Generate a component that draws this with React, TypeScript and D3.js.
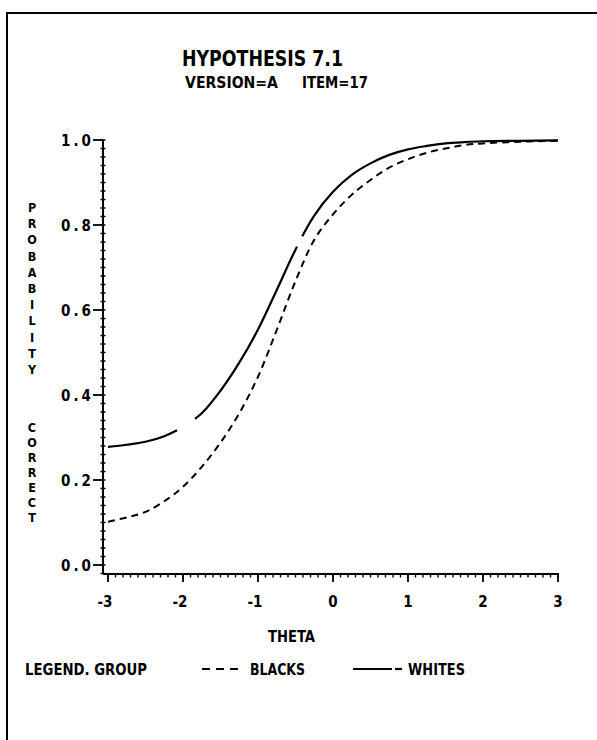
import React, { useEffect, useRef } from "react";
import * as d3 from "d3";

// Item characteristic curves: probability of a correct answer by ability (theta)
const thetaGrid = [-3, -2.75, -2.5, -2.25, -2, -1.75, -1.5, -1.25, -1, -0.75, -0.5, -0.25, 0, 0.25, 0.5, 0.75, 1, 1.25, 1.5, 1.75, 2, 2.5, 3];
const whitesProb = [0.278, 0.283, 0.29, 0.303, 0.325, 0.357, 0.41, 0.476, 0.554, 0.647, 0.742, 0.822, 0.878, 0.918, 0.945, 0.965, 0.978, 0.986, 0.992, 0.995, 0.997, 0.998, 0.999];
const blacksProb = [0.102, 0.112, 0.125, 0.15, 0.184, 0.231, 0.288, 0.357, 0.443, 0.553, 0.668, 0.765, 0.825, 0.871, 0.906, 0.935, 0.955, 0.97, 0.98, 0.988, 0.992, 0.996, 0.998];

const xTicks = [-3, -2, -1, 0, 1, 2, 3];
const xTickLabels = ["-3", "-2", "-1", "0", "1", "2", "3"];
const yTicks = [0, 0.2, 0.4, 0.6, 0.8, 1.0];
const yTickLabels = ["0.0", "0.2", "0.4", "0.6", "0.8", "1.0"];

const titleText = "HYPOTHESIS 7.1";
const subtitleLeft = "VERSION=A";
const subtitleRight = "ITEM=17";
const xAxisTitle = "THETA";
const yAxisWords = ["PROBABILITY", "CORRECT"];
const legendTitle = "LEGEND. GROUP";
const groupNames = ["BLACKS", "WHITES"];

const FONT = "'DejaVu Sans Condensed', 'Liberation Sans Narrow', 'DejaVu Sans', sans-serif";

export default function App() {
  const ref = useRef<SVGSVGElement>(null);

  useEffect(() => {
    document.body.style.margin = "0";
    const svg = d3.select(ref.current);
    svg.selectAll("*").remove();

    const x = d3.scaleLinear().domain([-3, 3]).range([108, 558]);
    const y = d3.scaleLinear().domain([0, 1]).range([565, 140]);
    const axisX = 103;
    const axisY = 574;

    // page frame (top and left rules)
    svg.append("line").attr("x1", 7).attr("y1", 13).attr("x2", 597).attr("y2", 13)
      .attr("stroke", "#000").attr("stroke-width", 2);
    svg.append("line").attr("x1", 7).attr("y1", 12).attr("x2", 7).attr("y2", 740)
      .attr("stroke", "#000").attr("stroke-width", 2);

    // titles
    svg.append("text").attr("x", 182).attr("y", 66).attr("font-family", FONT)
      .attr("font-weight", "bold").attr("font-size", 21)
      .attr("textLength", 161).attr("lengthAdjust", "spacingAndGlyphs").text(titleText);
    svg.append("text").attr("x", 185).attr("y", 88).attr("font-family", FONT)
      .attr("font-weight", "bold").attr("font-size", 16)
      .attr("textLength", 93).attr("lengthAdjust", "spacingAndGlyphs").text(subtitleLeft);
    svg.append("text").attr("x", 302).attr("y", 88).attr("font-family", FONT)
      .attr("font-weight", "bold").attr("font-size", 16)
      .attr("textLength", 66).attr("lengthAdjust", "spacingAndGlyphs").text(subtitleRight);

    // y axis
    svg.append("line").attr("x1", axisX).attr("y1", y(1)).attr("x2", axisX).attr("y2", axisY)
      .attr("stroke", "#000").attr("stroke-width", 2);
    const yMinor = d3.range(-1, 51).map((i) => i * 0.02);
    svg.append("g").selectAll("line").data(yMinor).join("line")
      .attr("x1", axisX - 2.5).attr("x2", axisX + 2.5)
      .attr("y1", (d) => y(d)).attr("y2", (d) => y(d))
      .attr("stroke", "#000").attr("stroke-width", 1.5);
    svg.append("g").selectAll("line").data(yTicks).join("line")
      .attr("x1", axisX - 10).attr("x2", axisX)
      .attr("y1", (d) => y(d)).attr("y2", (d) => y(d))
      .attr("stroke", "#000").attr("stroke-width", 1.8);
    svg.append("g").selectAll("text").data(yTicks).join("text")
      .attr("x", 61).attr("y", (d) => y(d) + 5.5)
      .attr("font-family", FONT).attr("font-weight", "bold").attr("font-size", 15)
      .attr("textLength", 30).attr("lengthAdjust", "spacing")
      .text((_, i) => yTickLabels[i]);

    // x axis
    svg.append("line").attr("x1", axisX).attr("y1", axisY).attr("x2", 559).attr("y2", axisY)
      .attr("stroke", "#000").attr("stroke-width", 2);
    const xMinor = d3.range(0, 61).map((i) => -3 + i * 0.1);
    svg.append("g").selectAll("line").data(xMinor).join("line")
      .attr("x1", (d) => x(d)).attr("x2", (d) => x(d))
      .attr("y1", axisY).attr("y2", axisY + 3.5)
      .attr("stroke", "#000").attr("stroke-width", 1.4);
    svg.append("g").selectAll("line").data(xTicks).join("line")
      .attr("x1", (d) => x(d)).attr("x2", (d) => x(d))
      .attr("y1", axisY).attr("y2", axisY + 8)
      .attr("stroke", "#000").attr("stroke-width", 1.8);
    svg.append("g").selectAll("text").data(xTicks).join("text")
      .attr("x", (d) => x(d) - (d < 0 ? 3 : 0)).attr("y", 607)
      .attr("text-anchor", "middle")
      .attr("font-family", FONT).attr("font-weight", "bold").attr("font-size", 15)
      .text((_, i) => xTickLabels[i]);

    svg.append("text").attr("x", 268).attr("y", 642).attr("font-family", FONT)
      .attr("font-weight", "bold").attr("font-size", 15)
      .attr("textLength", 47).attr("lengthAdjust", "spacingAndGlyphs").text(xAxisTitle);

    // y axis title, letters stacked vertically
    const yTitle = svg.append("text").attr("font-family", FONT).attr("font-weight", "bold")
      .attr("font-size", 12.5).attr("text-anchor", "middle");
    const starts = [201, 421];
    const pitches = [16.2, 15];
    yAxisWords.forEach((word, w) => {
      word.split("").forEach((ch, i) => {
        yTitle.append("tspan").attr("x", 32).attr("y", starts[w] + pitches[w] * i + 11).text(ch);
      });
    });

    // curves
    const line = d3.line<number>()
      .x((_, i) => x(thetaGrid[i]))
      .y((d) => y(d))
      .curve(d3.curveCatmullRom.alpha(0.5));

    svg.append("path").datum(blacksProb).attr("d", line).attr("fill", "none")
      .attr("stroke", "#000").attr("stroke-width", 2).attr("stroke-dasharray", "7,5");

    const whitesPath = svg.append("path").datum(whitesProb).attr("d", line).attr("fill", "none")
      .attr("stroke", "#000").attr("stroke-width", 2.2);

    // the whites curve is drawn as long dashes broken by two short breaks
    const node = whitesPath.node() as SVGPathElement;
    const total = node.getTotalLength();
    const lengthAtX = (px: number) => {
      let lo = 0, hi = total;
      for (let k = 0; k < 40; k++) {
        const mid = (lo + hi) / 2;
        if (node.getPointAtLength(mid).x < px) lo = mid; else hi = mid;
      }
      return lo;
    };
    const breaks = [[-2.08, -1.84], [-0.48, -0.41]].map(([a, b]) => [lengthAtX(x(a)), lengthAtX(x(b))]);
    const dash = [
      breaks[0][0],
      breaks[0][1] - breaks[0][0],
      breaks[1][0] - breaks[0][1],
      breaks[1][1] - breaks[1][0],
      total,
    ];
    whitesPath.attr("stroke-dasharray", dash.join(","));

    // legend
    const legendY = 675;
    svg.append("text").attr("x", 25).attr("y", legendY).attr("font-family", FONT)
      .attr("font-weight", "bold").attr("font-size", 15)
      .attr("textLength", 122).attr("lengthAdjust", "spacingAndGlyphs").text(legendTitle);
    svg.append("line").attr("x1", 202).attr("x2", 238).attr("y1", 669).attr("y2", 669)
      .attr("stroke", "#000").attr("stroke-width", 2).attr("stroke-dasharray", "8,6");
    svg.append("text").attr("x", 250).attr("y", legendY).attr("font-family", FONT)
      .attr("font-weight", "bold").attr("font-size", 15)
      .attr("textLength", 55).attr("lengthAdjust", "spacingAndGlyphs").text(groupNames[0]);
    svg.append("line").attr("x1", 353).attr("x2", 392).attr("y1", 669).attr("y2", 669)
      .attr("stroke", "#000").attr("stroke-width", 2.2);
    svg.append("line").attr("x1", 395).attr("x2", 402).attr("y1", 669).attr("y2", 669)
      .attr("stroke", "#000").attr("stroke-width", 2.2);
    svg.append("text").attr("x", 408).attr("y", legendY).attr("font-family", FONT)
      .attr("font-weight", "bold").attr("font-size", 15)
      .attr("textLength", 57).attr("lengthAdjust", "spacingAndGlyphs").text(groupNames[1]);
  }, []);

  return <svg ref={ref} width={597} height={740} style={{ display: "block", background: "#fff" }} />;
}
